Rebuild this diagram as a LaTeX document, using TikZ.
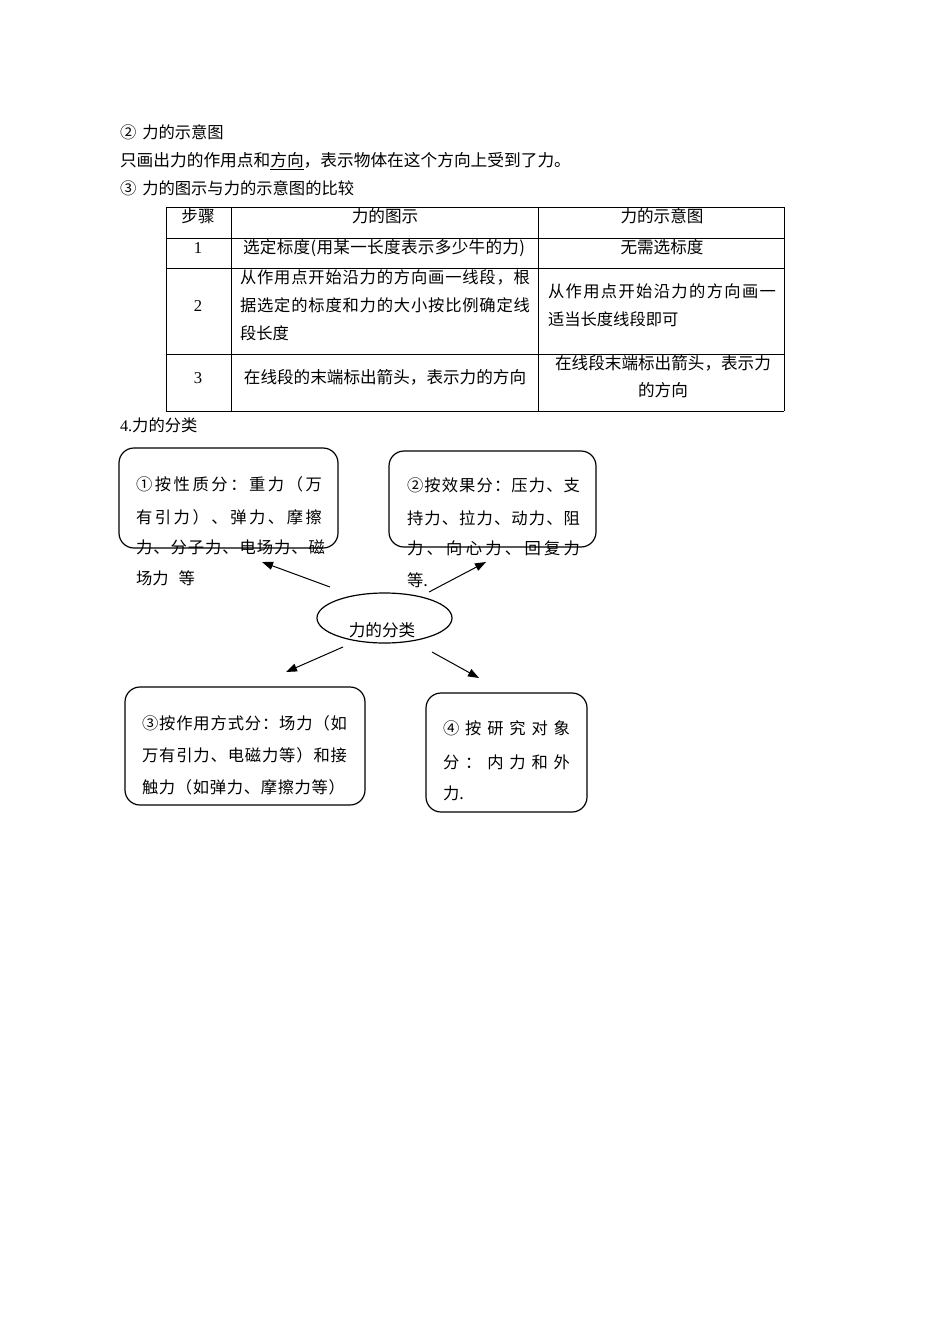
\documentclass[tikz,border=0pt]{standalone}
\usepackage{fontspec}
\setmainfont{Noto Sans CJK SC}
\newfontfamily\lat{Liberation Serif}
\usetikzlibrary{arrows.meta,shapes.geometric}
\newcommand\spr[2]{\makebox[#1][s]{\sprA#2\relax}}
\def\sprA#1{#1\sprB}
\def\sprB#1{\ifx#1\relax\else\hfil#1\expandafter\sprB\fi}
\tikzset{
  txt/.style={anchor=base west,inner sep=0pt,outer sep=0pt,font=\fontsize{16.3pt}{20pt}\selectfont},
  ctxt/.style={anchor=base,inner sep=0pt,outer sep=0pt,font=\fontsize{16.6pt}{20pt}\selectfont},
  rbox/.style={draw,rounded corners=15pt,line width=1.2pt,inner sep=0pt},
  oval/.style={draw,ellipse,line width=1.2pt,inner sep=0pt},
  arr/.style={line width=1pt,-{Triangle[length=11pt,width=8pt]}},
  grid/.style={line width=0.8pt}
}
\begin{document}
\begin{tikzpicture}[x=1pt,y=-1pt]
\useasboundingbox (0,0) rectangle (950,1344);
% heading lines
\node[txt] (h1) at (120,138) {②\hspace{6pt}力的示意图};
\node[txt,font=\fontsize{16.7pt}{20pt}\selectfont] (h2) at (120,166) {只画出力的作用点和\underline{方向}，表示物体在这个方向上受到了力。};
\node[txt] (h3) at (120,194) {③\hspace{6pt}力的图示与力的示意图的比较};
% table
\draw[grid] (166,207) -- (784,207);
\draw[grid] (166,238) -- (784,238);
\draw[grid] (166,268) -- (784,268);
\draw[grid] (166,354) -- (784,354);
\draw[grid] (166,411) -- (784,411);
\draw[grid] (166,207) -- (166,411);
\draw[grid] (231,207) -- (231,411);
\draw[grid] (538,207) -- (538,411);
\draw[grid] (784,207) -- (784,411);
\node[ctxt] (t00) at (198,222) {步骤};
\node[ctxt] (t01) at (385,222) {力的图示};
\node[ctxt] (t02) at (662,222) {力的示意图};
\node[ctxt] (t10) at (198,253) {\lat 1};
\node[ctxt] (t11) at (384,253) {\spr{282pt}{选定标度(用某一长度表示多少牛的力)}};
\node[ctxt] (t12) at (662,253) {无需选标度};
\node[ctxt] (t20) at (198,311) {\lat 2};
\node[txt] (t21a) at (240,283) {\spr{290pt}{从作用点开始沿力的方向画一线段，根}};
\node[txt] (t21b) at (240,311) {\spr{290pt}{据选定的标度和力的大小按比例确定线}};
\node[txt] (t21c) at (240,339) {段长度};
\node[txt] (t22a) at (548,297) {\spr{228pt}{从作用点开始沿力的方向画一}};
\node[txt] (t22b) at (548,325) {适当长度线段即可};
\node[ctxt] (t30) at (198,383) {\lat 3};
\node[ctxt] (t31) at (385,383) {在线段的末端标出箭头，表示力的方向};
\node[ctxt] (t32a) at (663,369) {在线段末端标出箭头，表示力};
\node[ctxt] (t32b) at (663,396) {的方向};
% section 4
\node[txt] (h4) at (120,431) {{\lat 4.}力的分类};
% boxes
\node[rbox,minimum width=219pt,minimum height=100pt] (b1) at (228.5,498) {};
\node[rbox,minimum width=207pt,minimum height=96pt] (b2) at (492.5,499) {};
\node[rbox,minimum width=240pt,minimum height=118pt] (b3) at (245,746) {};
\node[rbox,minimum width=161pt,minimum height=119pt] (b4) at (506.5,752.5) {};
\node[oval,minimum width=135pt,minimum height=50pt] (e) at (384.5,618) {};
\node[ctxt] (et) at (382,636) {力的分类};
% box texts
\node[txt] (b1a) at (136,490) {\spr{186pt}{①按性质分：重力（万}};
\node[txt] (b1b) at (136,523) {\spr{186pt}{有引力）、弹力、摩擦}};
\node[txt] (b1c) at (136,553) {\spr{189pt}{力、分子力、电场力、磁}};
\node[txt] (b1d) at (136,584) {场力\hspace{10pt}等};
\node[txt] (b2a) at (407,491) {\spr{173pt}{②按效果分：压力、支}};
\node[txt] (b2b) at (407,524) {\spr{173pt}{持力、拉力、动力、阻}};
\node[txt] (b2c) at (407,554) {\spr{173pt}{力、向心力、回复力}};
\node[txt] (b2d) at (407,586) {等.};
\node[txt] (b3a) at (142,729) {\spr{205pt}{③按作用方式分：场力（如}};
\node[txt] (b3b) at (142,761) {\spr{205pt}{万有引力、电磁力等）和接}};
\node[txt] (b3c) at (142,793) {\spr{203pt}{触力（如弹力、摩擦力等）}};
\node[txt] (b4a) at (443,734) {\spr{127pt}{④按研究对象}};
\node[txt] (b4b) at (443,768) {\spr{127pt}{分：内力和外}};
\node[txt] (b4c) at (443,799) {力.};
% arrows
\coordinate (a1s) at (330,587); \coordinate (a1e) at (262,562);
\coordinate (a2s) at (429,592); \coordinate (a2e) at (486,562);
\coordinate (a3s) at (343,647); \coordinate (a3e) at (286,672);
\coordinate (a4s) at (432,652); \coordinate (a4e) at (479,678);
\draw[arr] (a1s) -- (a1e);
\draw[arr] (a2s) -- (a2e);
\draw[arr] (a3s) -- (a3e);
\draw[arr] (a4s) -- (a4e);
\end{tikzpicture}
\end{document}
